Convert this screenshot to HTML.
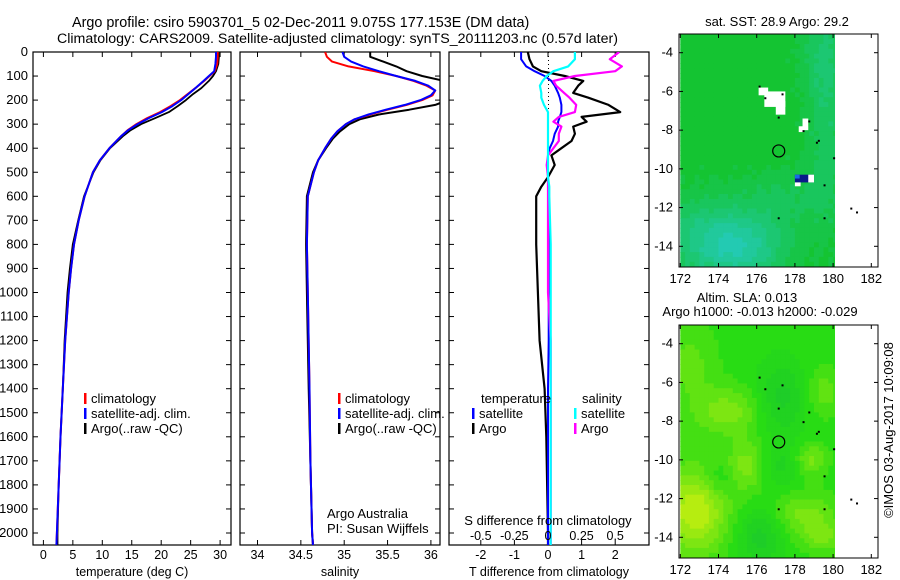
<!DOCTYPE html>
<html><head><meta charset="utf-8"><style>
html,body{margin:0;padding:0;background:#fff;}
svg{display:block;font-family:"Liberation Sans",sans-serif;}
text{font-size:12.5px;fill:#000;}
</style></head><body>
<svg id="fig" width="900" height="580" viewBox="0 0 900 580" xmlns="http://www.w3.org/2000/svg">
<defs>
<clipPath id="c1"><rect x="33" y="52" width="198" height="493"/></clipPath>
<clipPath id="c2"><rect x="240" y="52" width="200" height="493"/></clipPath>
<clipPath id="c3"><rect x="449" y="52" width="200" height="493"/></clipPath>
</defs>
<text x="72" y="27" style="font-size:14.4px">Argo profile: csiro 5903701_5 02-Dec-2011 9.075S 177.153E (DM data)</text>
<text x="57" y="43" style="font-size:14.2px">Climatology: CARS2009. Satellite-adjusted climatology: synTS_20111203.nc (0.57d later)</text>
<g id="p1"></g>
<g id="p2"></g>
<g id="p3"></g>
<g id="m1"></g>
<g id="m2"></g>
<text x="777" y="26" text-anchor="middle" style="font-size:13px">sat. SST: 28.9 Argo: 29.2</text>
<text x="747" y="302" text-anchor="middle" style="font-size:13px">Altim. SLA: 0.013</text>
<text x="760" y="316" text-anchor="middle" style="font-size:13px">Argo h1000: -0.013 h2000: -0.029</text>
<text transform="translate(893,430) rotate(-90)" text-anchor="middle" style="font-size:13px">©IMOS 03-Aug-2017 10:09:08</text>
</svg>
<script>
// ---- data ----
const depthsT=[0,20,50,80,100,120,150,175,200,225,250,275,300,325,350,400,450,500,600,700,800,900,1000,1200,1400,1600,1800,2000,2050];
const climT=[29.6,29.6,29.5,29.1,28.2,27.3,25.8,24.5,23.2,21.6,19.8,17.6,15.8,14.3,13.2,11.2,9.6,8.4,7.0,6.0,5.2,4.7,4.3,3.7,3.3,2.9,2.6,2.3,2.2];
const satT=[29.3,29.3,29.2,29.0,28.1,27.2,25.8,24.6,23.4,21.9,20.1,17.9,16.0,14.4,13.2,11.2,9.6,8.4,7.0,6.0,5.2,4.7,4.3,3.7,3.3,2.9,2.6,2.3,2.2];
const argoT=[29.8,29.8,29.7,29.3,28.8,28.1,26.8,25.4,24.2,22.8,21.3,19.0,16.6,14.8,13.5,11.3,9.7,8.5,6.9,5.9,5.0,4.5,4.1,3.6,3.3,2.9,2.6,2.4,2.4];
const depthsS=[0,20,40,60,80,100,120,140,160,180,200,220,240,260,280,300,330,360,400,450,500,600,800,1000,1400,1700,2000,2050];
const climS=[34.78,34.8,34.86,35.05,35.35,35.6,35.8,35.95,36.05,36.02,35.9,35.72,35.5,35.3,35.12,35.02,34.92,34.85,34.78,34.7,34.65,34.58,34.57,34.58,34.6,34.61,34.63,34.64];
const satS=[34.98,35.0,35.08,35.22,35.4,35.6,35.82,35.97,36.05,36.0,35.88,35.7,35.48,35.28,35.12,35.02,34.92,34.85,34.78,34.7,34.65,34.58,34.57,34.58,34.6,34.61,34.63,34.64];
const argoS=[35.3,35.3,35.45,35.6,35.72,35.9,36.15,36.3,36.3,36.3,36.2,36.05,35.75,35.4,35.18,35.06,34.95,34.87,34.79,34.7,34.64,34.57,34.56,34.57,34.59,34.61,34.63,34.64];
const depthsD=[0,30,60,80,100,120,140,170,190,220,250,270,290,310,340,370,400,430,470,520,560,600,800,1000,1200,1400,1600,2000,2050];
const argoDT=[-0.6,-0.55,-0.45,-0.2,0.5,1.05,0.9,0.75,1.2,1.8,2.15,1.0,1.15,0.75,0.8,0.7,0.4,0.1,0.2,0.0,-0.2,-0.35,-0.35,-0.3,-0.25,-0.1,-0.05,0,0];
const satDT=[-0.8,-0.8,-0.65,-0.4,-0.1,0.1,0.2,0.3,0.35,0.4,0.4,0.35,0.3,0.3,0.2,0.15,0.05,0.0,0.0,0.0,0.0,0.02,0.02,0.02,0.02,0.0,0.0,0.0,0.0];
const satDS=[0.2,0.2,0.15,0.04,-0.01,-0.04,-0.06,-0.05,-0.05,-0.03,0,0,0,0,0,0,0,0,0,0,0.01,0.01,0.02,0.02,0.02,0.02,0.02,0.02,0.02];
const argoDS=[0.53,0.46,0.55,0.5,0.2,0.04,0.06,0.12,0.16,0.21,0.2,0.08,0.04,0.1,0.08,0.08,0.04,0,-0.01,0,0,0,0,0,0.02,0.02,0.02,0.02,0.02];
const depthTicks=[0,100,200,300,400,500,600,700,800,900,1000,1100,1200,1300,1400,1500,1600,1700,1800,1900,2000];
const tempTicks=[0,5,10,15,20,25,30];
const salTicks=[34,34.5,35,35.5,36];
const dTTicks=[-2,-1,0,1,2];
const dSTicks=[-0.5,-0.25,0,0.25,0.5];
const dSTickLabels=["-0.5","-0.25","0","0.25","0.5"];
const lonTicks=[172,174,176,178,180,182];
const latTicks=[-4,-6,-8,-10,-12,-14];

const NS="http://www.w3.org/2000/svg";
function mk(tag,attrs,parent,txt){const e=document.createElementNS(NS,tag);for(const k in attrs)e.setAttribute(k,attrs[k]);if(txt!==undefined)e.textContent=txt;parent.appendChild(e);return e;}
const yD=d=>52+d*0.2405;
const xT=t=>43.4+t*5.89;
const xS=s=>257.5+(s-34)*86.7;
const xDT=t=>548+t*33.6;
const xDS=s=>548+s*134.4;

function frame(g,x0,x1,xf,ticks,labels,title){
  let r=mk('rect',{x:x0,y:52,width:x1-x0,height:493,fill:'none',stroke:'#000','stroke-width':1.2},g);
  
  depthTicks.forEach(d=>{
    mk('line',{x1:x0,x2:x0+5,y1:yD(d),y2:yD(d),stroke:'#000'},g);
    mk('line',{x1:x1-5,x2:x1,y1:yD(d),y2:yD(d),stroke:'#000'},g);
  });
  ticks.forEach((t,i)=>{
    const x=xf(t);
    mk('line',{x1:x,x2:x,y1:545,y2:540,stroke:'#000'},g);
    mk('line',{x1:x,x2:x,y1:52,y2:57,stroke:'#000'},g);
    const tl=mk('text',{x:x,y:559,'text-anchor':'middle'},g,labels?labels[i]:String(t));
    
  });
  const at=mk('text',{x:(x0+x1)/2,y:576,'text-anchor':'middle'},g,title);
  
}
function line(g,xs,ds,xf,color,w,clip,name){
  const pts=xs.map((v,i)=>xf(v).toFixed(1)+','+yD(ds[i]).toFixed(1)).join(' ');
  const p=mk('polyline',{points:pts,fill:'none',stroke:color,'stroke-width':w,'clip-path':'url(#'+clip+')','stroke-linejoin':'round'},g);
  
}
function legend(g,x,y,color,label,name){
  mk('rect',{x:x,y:y-10,width:2.5,height:11,fill:color},g);
  const t=mk('text',{x:x+7,y:y,style:'font-size:13px'},g,label);
  
}
// panel 1
const p1=document.getElementById('p1');
depthTicks.forEach(d=>{const t=mk('text',{x:28,y:yD(d)+4,'text-anchor':'end',style:'font-size:13px'},p1,String(d));});
frame(p1,33,231,xT,tempTicks,null,'temperature (deg C)');
line(p1,argoT,depthsT,xT,'#000',1.8,'c1','argo-temperature-line');
line(p1,climT,depthsT,xT,'#f00',2,'c1','climatology-temperature-line');
line(p1,satT,depthsT,xT,'#00f',2,'c1','satellite-temperature-line');
legend(p1,84,403,'#f00','climatology','legend-climatology');
legend(p1,84,418,'#00f','satellite-adj.  clim.','legend-satellite');
legend(p1,84,433,'#000','Argo(..raw -QC)','legend-argo');
// panel 2
const p2=document.getElementById('p2');
frame(p2,240,440,xS,salTicks,null,'salinity');
line(p2,argoS,depthsS,xS,'#000',2,'c2','argo-salinity-line');
line(p2,climS,depthsS,xS,'#f00',2,'c2','climatology-salinity-line');
line(p2,satS,depthsS,xS,'#00f',2,'c2','satellite-salinity-line');
legend(p2,338,403,'#f00','climatology','legend-climatology');
legend(p2,338,418,'#00f','satellite-adj. clim.','legend-satellite');
legend(p2,338,433,'#000','Argo(..raw -QC)','legend-argo');
let t1=mk('text',{x:327,y:518,style:'font-size:13px'},p2,'Argo Australia');
let t2=mk('text',{x:327,y:533,style:'font-size:13px'},p2,'PI: Susan Wijffels');
// panel 3
const p3=document.getElementById('p3');
frame(p3,449,649,xDT,dTTicks,null,'T difference from climatology');
mk('line',{x1:548.5,x2:548.5,y1:52,y2:200,stroke:'#000','stroke-dasharray':'1,3'},p3);
line(p3,argoDT,depthsD,xDT,'#000',2.2,'c3','argo-t-diff-line');
line(p3,satDT,depthsD,xDT,'#00f',2,'c3','satellite-t-diff-line');
line(p3,argoDS,depthsD,xDS,'#f0f',2.2,'c3','argo-s-diff-line');
line(p3,satDS,depthsD,xDS,'#0ff',2.2,'c3','satellite-s-diff-line');
dSTicks.forEach((s,i)=>{const t=mk('text',{x:xDS(s),y:540,'text-anchor':'middle'},p3,dSTickLabels[i]);});
let t3=mk('text',{x:548,y:525,'text-anchor':'middle',style:'font-size:13px'},p3,'S difference from climatology');
let t4=mk('text',{x:481,y:403,style:'font-size:13px'},p3,'temperature');
let t5=mk('text',{x:582,y:403,style:'font-size:13px'},p3,'salinity');
legend(p3,472,418,'#00f','satellite','legend-t-satellite');
legend(p3,472,433,'#000','Argo','legend-t-argo');
legend(p3,574,418,'#0ff','satellite','legend-s-satellite');
legend(p3,574,433,'#f0f','Argo','legend-s-argo');

// ---- maps ----
function map(id,top,colorFn,extras){
  const g=document.getElementById(id);
  const x0=680.3,fx0=679,fx1=878,pxLon=19.1;
  const yLat=l=>top+18.7+(-4-l)*19.36;
  const lonX=l=>x0+(l-172)*pxLon;
  const cw=pxLon/4,ch=19.36/4;
  for(let i=0;i<33;i++)for(let j=0;j<48;j++){
    const lon=172+i*0.25,lat=-3.05-j*0.25;
    mk('rect',{x:(lonX(lon)).toFixed(1),y:(yLat(lat)).toFixed(1),width:(cw+0.6).toFixed(1),height:(ch+0.6).toFixed(1),fill:colorFn(lon+0.125,lat-0.125)},g);
  }
  extras(g,lonX,yLat);
  const bt=top+233;
  mk('rect',{x:lonX(180.1),y:top+0.5,width:fx1-lonX(180.1),height:232,fill:'#fff'},g);
  mk('rect',{x:fx0,y:top,width:fx1-fx0,height:233,fill:'none',stroke:'#000','stroke-width':1},g);
  lonTicks.forEach(l=>{const x=lonX(l);mk('line',{x1:x,x2:x,y1:bt,y2:bt-4,stroke:'#000'},g);mk('line',{x1:x,x2:x,y1:top,y2:top+4,stroke:'#000'},g);
    const t=mk('text',{x:x,y:bt+16,'text-anchor':'middle',style:'font-size:13px'},g,String(l));});
  latTicks.forEach(l=>{const y=yLat(l);mk('line',{x1:fx0,x2:fx0+4,y1:y,y2:y,stroke:'#000'},g);mk('line',{x1:fx1-4,x2:fx1,y1:y,y2:y,stroke:'#000'},g);
    const t=mk('text',{x:fx0-6,y:y+4,'text-anchor':'end',style:'font-size:13px'},g,String(l));});
  const c=mk('circle',{cx:lonX(177.153),cy:yLat(-9.075),r:6,fill:'none',stroke:'#000','stroke-width':1.2},g);
  
  [[176.1,-5.7],[177.3,-6.1],[176.4,-6.3],[177.1,-7.3],[178.7,-7.5],[178.4,-8.0],[179.1,-8.6],[179.2,-8.5],[180,-9.4],[179.5,-10.8],[177.1,-12.5],[179.5,-12.5],[180.9,-12.0],[181.2,-12.2]].forEach(p=>mk('rect',{x:lonX(p[0]),y:yLat(p[1]),width:2,height:2,fill:'#000'},g));
}
function blob(lon,lat,cx,cy,sx,sy){return Math.exp(-((lon-cx)**2/(2*sx*sx)+(lat-cy)**2/(2*sy*sy)));}
function q(v,n){return Math.round(v*n)/n;}
function sstColor(lon,lat){
  let t=0.6*blob(lon,lat,175.3,-14,1.6,1.3)+0.35*blob(lon,lat,173,-13.5,1.5,1.5)+0.3*blob(lon,lat,179.5,-4,0.8,2)+0.25*blob(lon,lat,179.7,-9,0.7,3)+0.2*blob(lon,lat,177.5,-11.5,1.5,1);
  t+=0.05*Math.sin(lon*7.3+lat*3.1)*Math.cos(lat*5.7);
  t=Math.max(0,Math.min(1,q(t,8)));
  const r=Math.round(20+t*20),g=Math.round(196+t*8),b=Math.round(50+t*170);
  return `rgb(${r},${g},${b})`;
}
function slaColor(lon,lat){
  let h=0.9*blob(lon,lat,172.8,-12.6,1.2,1.6)+0.5*blob(lon,lat,174.5,-7.5,1.3,0.9)+0.5*blob(lon,lat,175.5,-10.3,0.7,0.9)+0.5*blob(lon,lat,178.8,-10,0.6,0.6)+0.45*blob(lon,lat,178.5,-12.8,1.2,0.8)+0.4*blob(lon,lat,179.5,-14,0.8,0.6)+0.35*blob(lon,lat,179.5,-6.5,0.7,0.9)+0.3*blob(lon,lat,172.5,-5,1,1.5);
  h-=0.5*blob(lon,lat,177.3,-6.8,0.9,1.3)+0.5*blob(lon,lat,176.2,-14,0.8,1)+0.3*blob(lon,lat,177.3,-10.3,0.8,0.8)+0.3*blob(lon,lat,174,-11,0.6,0.6);
  h=q(h,6);
  if(h>=0){const t=Math.min(1,h);return `rgb(${Math.round(40+t*170)},${Math.round(220+t*20)},${Math.round(20-t*5)})`;}
  const t=Math.min(1,-h);return `rgb(${Math.round(40-t*20)},${Math.round(220-t*30)},${Math.round(20+t*40)})`;
}
map('m1',34,sstColor,(g,lonX,yLat)=>{
  const w=(a,b,c,d,f)=>mk('rect',{x:lonX(a),y:yLat(d),width:lonX(b)-lonX(a),height:yLat(c)-yLat(d),fill:f},g);
  w(176.1,176.6,-6.2,-5.8,'#fff');w(176.4,177.5,-6.8,-6.0,'#fff');w(177.0,177.5,-7.2,-6.5,'#fff');
  w(178.4,178.7,-8.0,-7.4,'#fff');w(178.2,178.5,-8.1,-7.8,'#fff');
  w(178,179,-10.7,-10.3,'#0a1a8a');w(178,178.25,-10.5,-10.3,'#1a6ae8');w(178.7,179,-10.7,-10.3,'#fff');w(178,178.3,-10.9,-10.7,'#fff');
});
map('m2',325,slaColor,()=>{});
</script>
</body></html>
